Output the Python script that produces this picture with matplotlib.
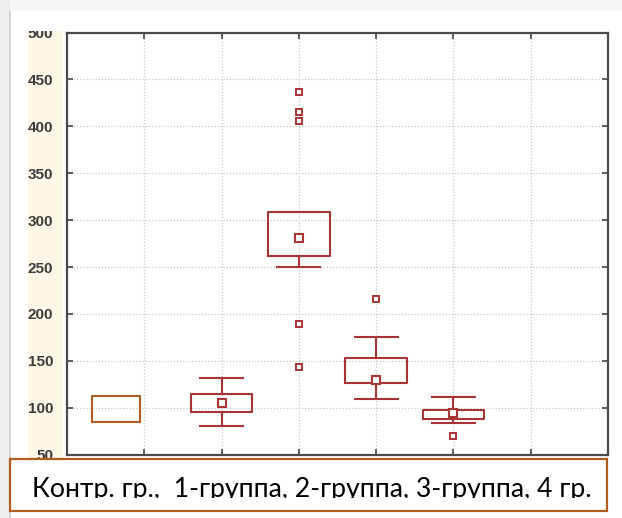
import numpy as np
import matplotlib
matplotlib.use("Agg")
import matplotlib.pyplot as plt
from matplotlib.patches import Rectangle
from matplotlib.transforms import Bbox

# box data (quartiles, median, whiskers, outliers)
positions = [2, 3, 4, 5]
q1 = [95.8, 261.6, 126.7, 87.7]
q3 = [114.6, 308.8, 153.3, 97.6]
med = [104.7, 281.5, 129.2, 94.1]
whislo = [80.6, 250.2, 109.3, 84.3]
whishi = [131.4, 308.8, 175.7, 111.1]
fliers = [[], [437, 415, 406, 189, 143], [216], [69.6]]

# control group is only an outlined rectangle
ctrl_x = [0.32, 0.94]
ctrl_y = [84.6, 112.3]

yticks = [50, 100, 150, 200, 250, 300, 350, 400, 450, 500]
caption = "Контр. гр.,  1-группа, 2-группа, 3-группа, 4 гр."

W, H = 622, 518
red = "#a83434"
brown = "#b35c20"

fig = plt.figure(figsize=(W / 100, H / 100), dpi=100)
fig.patch.set_facecolor("white")


def px(x0, y0, x1, y1, **kw):
    # rectangle in pixel coords (origin top-left)
    r = Rectangle((x0 / W, 1 - y1 / H), (x1 - x0) / W, (y1 - y0) / H,
                  transform=fig.transFigure, **kw)
    fig.add_artist(r)
    return r


# slide shadow and cream strip behind tick labels
px(0, 0, 10, H, facecolor="#ededed", edgecolor="none", zorder=-5)
px(8.5, 11, 10.5, H, facecolor="#d2d2d2", edgecolor="none", zorder=-5)
px(10, 0, W, 11, facecolor="#f7f7f7", edgecolor="none", zorder=-5)
px(28, 30.5, 63, 458, facecolor="#fdf8e6", edgecolor="none", zorder=-4)

ax = fig.add_axes([67 / W, 1 - 454.7 / H, 541 / W, (454.7 - 32.5) / H])
ax.set_xlim(0, 7)
ax.set_ylim(50, 500)
ax.set_xticks(range(1, 7))
ax.set_xticklabels([])
ax.set_yticks(yticks)
ax.set_yticklabels([str(v) for v in yticks], fontsize=11, fontweight="bold",
                   color="#3c3c3c", family="Liberation Sans")
ax.tick_params(direction="in", length=4, width=1.2, color="#444444",
               top=True, right=True, pad=10)
ax.grid(True, linestyle=(0, (1, 1.5)), color="#c8c8c8", linewidth=0.9)
for s in ax.spines.values():
    s.set_color("#4a4a4a")
    s.set_linewidth(1.6)

stats = []
for i in range(len(positions)):
    stats.append(dict(q1=q1[i], q3=q3[i], med=med[i], whislo=whislo[i],
                      whishi=whishi[i], fliers=fliers[i]))

lp = dict(color=red, linewidth=1.5)
ax.bxp(stats, positions=positions, widths=0.8, capwidths=0.56,
       boxprops=lp, whiskerprops=lp, capprops=lp,
       medianprops=dict(linewidth=0),
       flierprops=dict(marker="s", markersize=4.5, markerfacecolor="white",
                       markeredgecolor=red, markeredgewidth=1.4),
       manage_ticks=False)
ax.plot(positions, med, "s", markersize=6, markerfacecolor="white",
        markeredgecolor=red, markeredgewidth=1.5, zorder=5)

ax.add_patch(Rectangle((ctrl_x[0], ctrl_y[0]), ctrl_x[1] - ctrl_x[0],
                       ctrl_y[1] - ctrl_y[0], fill=False, edgecolor=brown,
                       linewidth=1.5, zorder=4))

# mask the top of the "500" label like the cropped slide image
px(10.5, 11, W, 30.5, facecolor="white", edgecolor="none", zorder=5)

# caption box
px(10, 458.5, 606.5, 510.5, facecolor="white", edgecolor=brown,
   linewidth=1.6, zorder=6)
t = fig.text(32 / W, 1 - 497 / H, caption, fontsize=19.2, family="Lato",
             color="black", ha="left", va="baseline", zorder=7)
t.set_clip_box(Bbox([[0, H - 498], [W, H]]))
t.set_clip_on(True)

fig.savefig("out.png", dpi=100)
